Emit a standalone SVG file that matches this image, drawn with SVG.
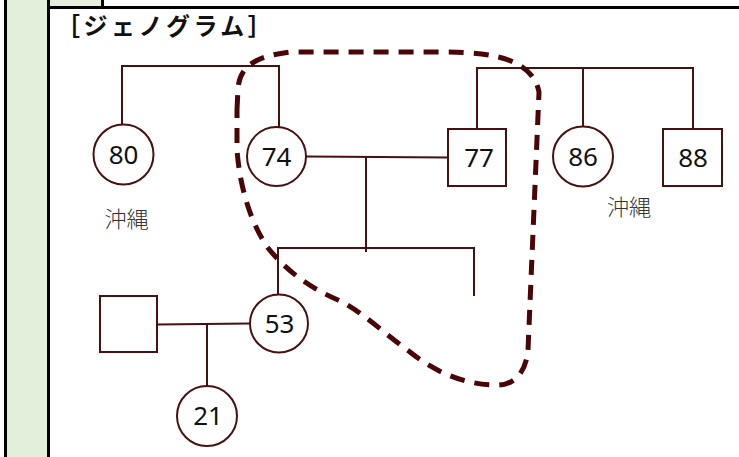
<svg xmlns="http://www.w3.org/2000/svg" width="739" height="457" viewBox="0 0 739 457">
<style>
.ln{stroke:#4a1010;stroke-width:2;fill:none}
.nd{stroke:#4a1010;stroke-width:2;fill:#fff}
.num{font-family:"Noto Sans","Liberation Sans",sans-serif;font-size:26px;fill:#111;text-anchor:middle}
.pl{font-family:"Noto Sans CJK JP","Noto Sans",sans-serif;font-size:22px;font-weight:300;fill:#333;text-anchor:middle}
.bd{stroke:#000;stroke-width:3;fill:none}
</style>
<rect x="0" y="0" width="739" height="457" fill="#fff"/>
<g id="frame">
<rect x="6" y="0" width="42" height="457" fill="#e2efda"/>
<rect x="49" y="0" width="53" height="7" fill="#e2efda"/>
<line class="bd" x1="5.5" y1="0" x2="5.5" y2="457"/>
<line class="bd" x1="48.5" y1="0" x2="48.5" y2="457"/>
<line class="bd" x1="102.5" y1="0" x2="102.5" y2="7"/>
<line class="bd" x1="48" y1="7.5" x2="739" y2="7.5"/>
</g>
<text id="title" x="56" y="35" font-family="'Noto Sans CJK JP',sans-serif" font-size="24" font-weight="bold" fill="#111" letter-spacing="3.5">［ジェノグラム］</text>
<g id="connectors">
<polyline class="ln" points="122,125 122,66 279,66 279,127"/>
<polyline class="ln" points="477,129 477,68 693,68 693,129"/>
<line class="ln" x1="583" y1="68" x2="583" y2="127"/>
<line class="ln" x1="306" y1="156.5" x2="448" y2="157.5"/>
<line class="ln" x1="366" y1="157" x2="366" y2="252"/>
<polyline class="ln" points="278,295 278,248 474,248 474,296"/>
<line class="ln" x1="157" y1="324.5" x2="250" y2="323.5"/>
<line class="ln" x1="207" y1="324" x2="207" y2="387"/>
</g>
<g id="n80"><circle class="nd" cx="123.5" cy="154.5" r="30"/><text class="num" x="123.5" y="164">80</text></g>
<g id="n74"><circle class="nd" cx="276.5" cy="156.5" r="29.5"/><text class="num" x="276.5" y="166">74</text></g>
<g id="n77"><rect class="nd" x="448" y="129" width="58" height="57"/><text class="num" x="479" y="167">77</text></g>
<g id="n86"><circle class="nd" cx="583" cy="156.5" r="30"/><text class="num" x="583" y="166">86</text></g>
<g id="n88"><rect class="nd" x="663" y="129" width="59" height="57"/><text class="num" x="693" y="167">88</text></g>
<g id="n53"><circle class="nd" cx="279" cy="323.5" r="29"/><text class="num" x="279.5" y="333">53</text></g>
<g id="nsq"><rect class="nd" x="100" y="296" width="57" height="56"/></g>
<g id="n21"><circle class="nd" cx="207" cy="416" r="30"/><text class="num" x="208" y="425">21</text></g>
<text class="pl" x="126.5" y="227">沖縄</text>
<text class="pl" x="629" y="215">沖縄</text>
<path id="enclosure" d="M237,110 L238,88 C240,66 256,56 290,52 L445,52 C500,52 533,62 539,92 L528,350 C526,372 515,385 497,385 C470,385 440,376 410,352 C385,334 360,310 338,300 C315,290 290,275 268,248 C252,225 240,190 237,150 Z" fill="none" stroke="#4a0606" stroke-width="5" stroke-dasharray="15,10"/>
</svg>
